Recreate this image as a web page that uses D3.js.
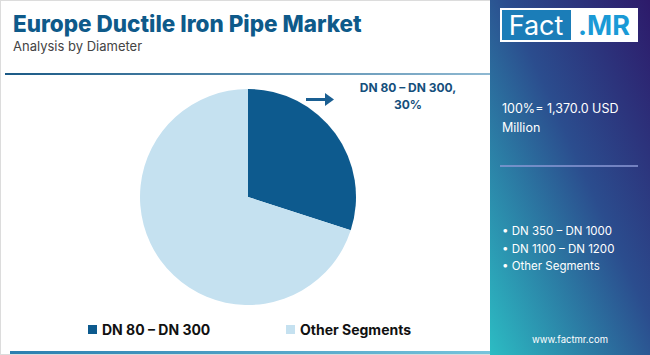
<!DOCTYPE html>
<html>
<head>
<meta charset="utf-8">
<script src="https://cdn.jsdelivr.net/npm/d3@7"></script>
<style>
  body { margin: 0; background: #fff; }
  svg { display: block; font-family: Inter, "Open Sans", sans-serif; }
</style>
</head>
<body>
<svg></svg>
<script>
var segments = ["DN 80 – DN 300", "Other Segments"];
var shares = [30, 70];
var otherSegments = ["DN 350 – DN 1000", "DN 1100 – DN 1200", "Other Segments"];
var totalLabel = ["100%= 1,370.0 USD", "Million"];

const svgWidth = 650, svgHeight = 355;

var svg = d3.select("svg")
    .attr("width", svgWidth)
    .attr("height", svgHeight);

var defs = svg.append("defs");

var panelGrad = defs.append("linearGradient")
    .attr("id", "panelGrad")
    .attr("x1", "100%").attr("y1", "0%")
    .attr("x2", "0%").attr("y2", "100%");
panelGrad.append("stop").attr("offset", "0%").attr("stop-color", "#2d1a6a");
panelGrad.append("stop").attr("offset", "45%").attr("stop-color", "#2b4d8e");
panelGrad.append("stop").attr("offset", "100%").attr("stop-color", "#2cbcc3");

var lineGrad = defs.append("linearGradient")
    .attr("id", "lineGrad")
    .attr("x1", "0%").attr("x2", "100%");
lineGrad.append("stop").attr("offset", "0%").attr("stop-color", "#1b5a86");
lineGrad.append("stop").attr("offset", "100%").attr("stop-color", "#8fb9d2");

var bottomGrad = defs.append("linearGradient")
    .attr("id", "bottomGrad")
    .attr("x1", "0%").attr("x2", "100%");
bottomGrad.append("stop").attr("offset", "0%").attr("stop-color", "#2a7fb0");
bottomGrad.append("stop").attr("offset", "100%").attr("stop-color", "#76c4dc");

// frame
svg.append("rect")
    .attr("x", 0.5).attr("y", 0.5)
    .attr("width", svgWidth - 1).attr("height", svgHeight - 1)
    .attr("fill", "#fff")
    .attr("stroke", "#dcdcdc");

// title
svg.append("text")
    .attr("x", 13).attr("y", 32)
    .attr("font-size", 22.5).attr("font-weight", 800)
    .attr("fill", "#0e5a8a")
    .text("Europe Ductile Iron Pipe Market");

svg.append("text")
    .attr("x", 13).attr("y", 51)
    .attr("font-size", 13)
    .attr("fill", "#444")
    .text("Analysis by Diameter");

svg.append("rect")
    .attr("x", 5).attr("y", 73)
    .attr("width", 485).attr("height", 2)
    .attr("fill", "url(#lineGrad)");

svg.append("rect")
    .attr("x", 10).attr("y", 351)
    .attr("width", 480).attr("height", 3)
    .attr("fill", "url(#bottomGrad)");

// pie
var color = d3.scaleOrdinal().domain(segments).range(["#0d5a8e", "#c5e1f0"]);

var pie = d3.pie().sort(null).value(d => d.v);
var arc = d3.arc().innerRadius(0).outerRadius(108);

var pieData = pie(segments.map((s, i) => ({ k: s, v: shares[i] })));

var g = svg.append("g")
    .attr("transform", "translate(248,197)");

g.selectAll("path")
    .data(pieData)
    .enter()
    .append("path")
    .attr("d", arc)
    .attr("fill", d => color(d.data.k));

// callout
svg.append("line")
    .attr("x1", 306).attr("y1", 99.5)
    .attr("x2", 326).attr("y2", 99.5)
    .attr("stroke", "#1a5f92").attr("stroke-width", 3);
svg.append("path")
    .attr("d", "M325,93 L334,99.5 L325,106 Z")
    .attr("fill", "#1a5f92");

var callout = svg.append("text")
    .attr("font-size", 12).attr("font-weight", 700)
    .attr("fill", "#154f7c")
    .attr("text-anchor", "middle");
callout.append("tspan").attr("x", 408).attr("y", 92).text(segments[0] + ",");
callout.append("tspan").attr("x", 408).attr("y", 109).text(shares[0] + "%");

// legend
var legendX = [88, 286];
var legend = svg.selectAll(".legend")
    .data(segments)
    .enter()
    .append("g")
    .attr("class", "legend")
    .attr("transform", (d, i) => "translate(" + legendX[i] + ",324)");
legend.append("rect")
    .attr("width", 9).attr("height", 9)
    .attr("y", 1)
    .attr("fill", d => color(d));
legend.append("text")
    .attr("x", 14).attr("y", 11)
    .attr("font-size", 14).attr("font-weight", 700)
    .attr("fill", "#111")
    .text(d => d);

// right panel
svg.append("rect")
    .attr("x", 490).attr("y", 0)
    .attr("width", 160).attr("height", svgHeight)
    .attr("fill", "url(#panelGrad)");

svg.append("rect")
    .attr("x", 500).attr("y", 8)
    .attr("width", 138).attr("height", 34)
    .attr("fill", "#fff");
svg.append("rect")
    .attr("x", 502).attr("y", 10)
    .attr("width", 69).attr("height", 30)
    .attr("fill", "#1b7db8");
svg.append("text")
    .attr("x", 536).attr("y", 35)
    .attr("text-anchor", "middle")
    .attr("font-size", 27)
    .attr("fill", "#fff")
    .text("Fact");
svg.append("text")
    .attr("x", 604).attr("y", 35)
    .attr("text-anchor", "middle")
    .attr("font-size", 27).attr("font-weight", 700)
    .attr("fill", "#1a9ad6")
    .text(".MR");

svg.selectAll(".total")
    .data(totalLabel)
    .enter()
    .append("text")
    .attr("class", "total")
    .attr("x", 502)
    .attr("y", (d, i) => 113 + i * 19)
    .attr("font-size", 12.5)
    .attr("fill", "#fff")
    .text(d => d);

svg.append("line")
    .attr("x1", 500).attr("x2", 638)
    .attr("y1", 166).attr("y2", 166)
    .attr("stroke", "#8b9ad6").attr("stroke-width", 1.5);

svg.selectAll(".other")
    .data(otherSegments)
    .enter()
    .append("text")
    .attr("class", "other")
    .attr("x", 502)
    .attr("y", (d, i) => 235 + i * 17.5)
    .attr("font-size", 11.5)
    .attr("fill", "#fff")
    .text(d => "• " + d);

svg.append("text")
    .attr("x", 570).attr("y", 343)
    .attr("text-anchor", "middle")
    .attr("font-size", 9.5)
    .attr("fill", "#fff")
    .text("www.factmr.com");
</script>
</body>
</html>
